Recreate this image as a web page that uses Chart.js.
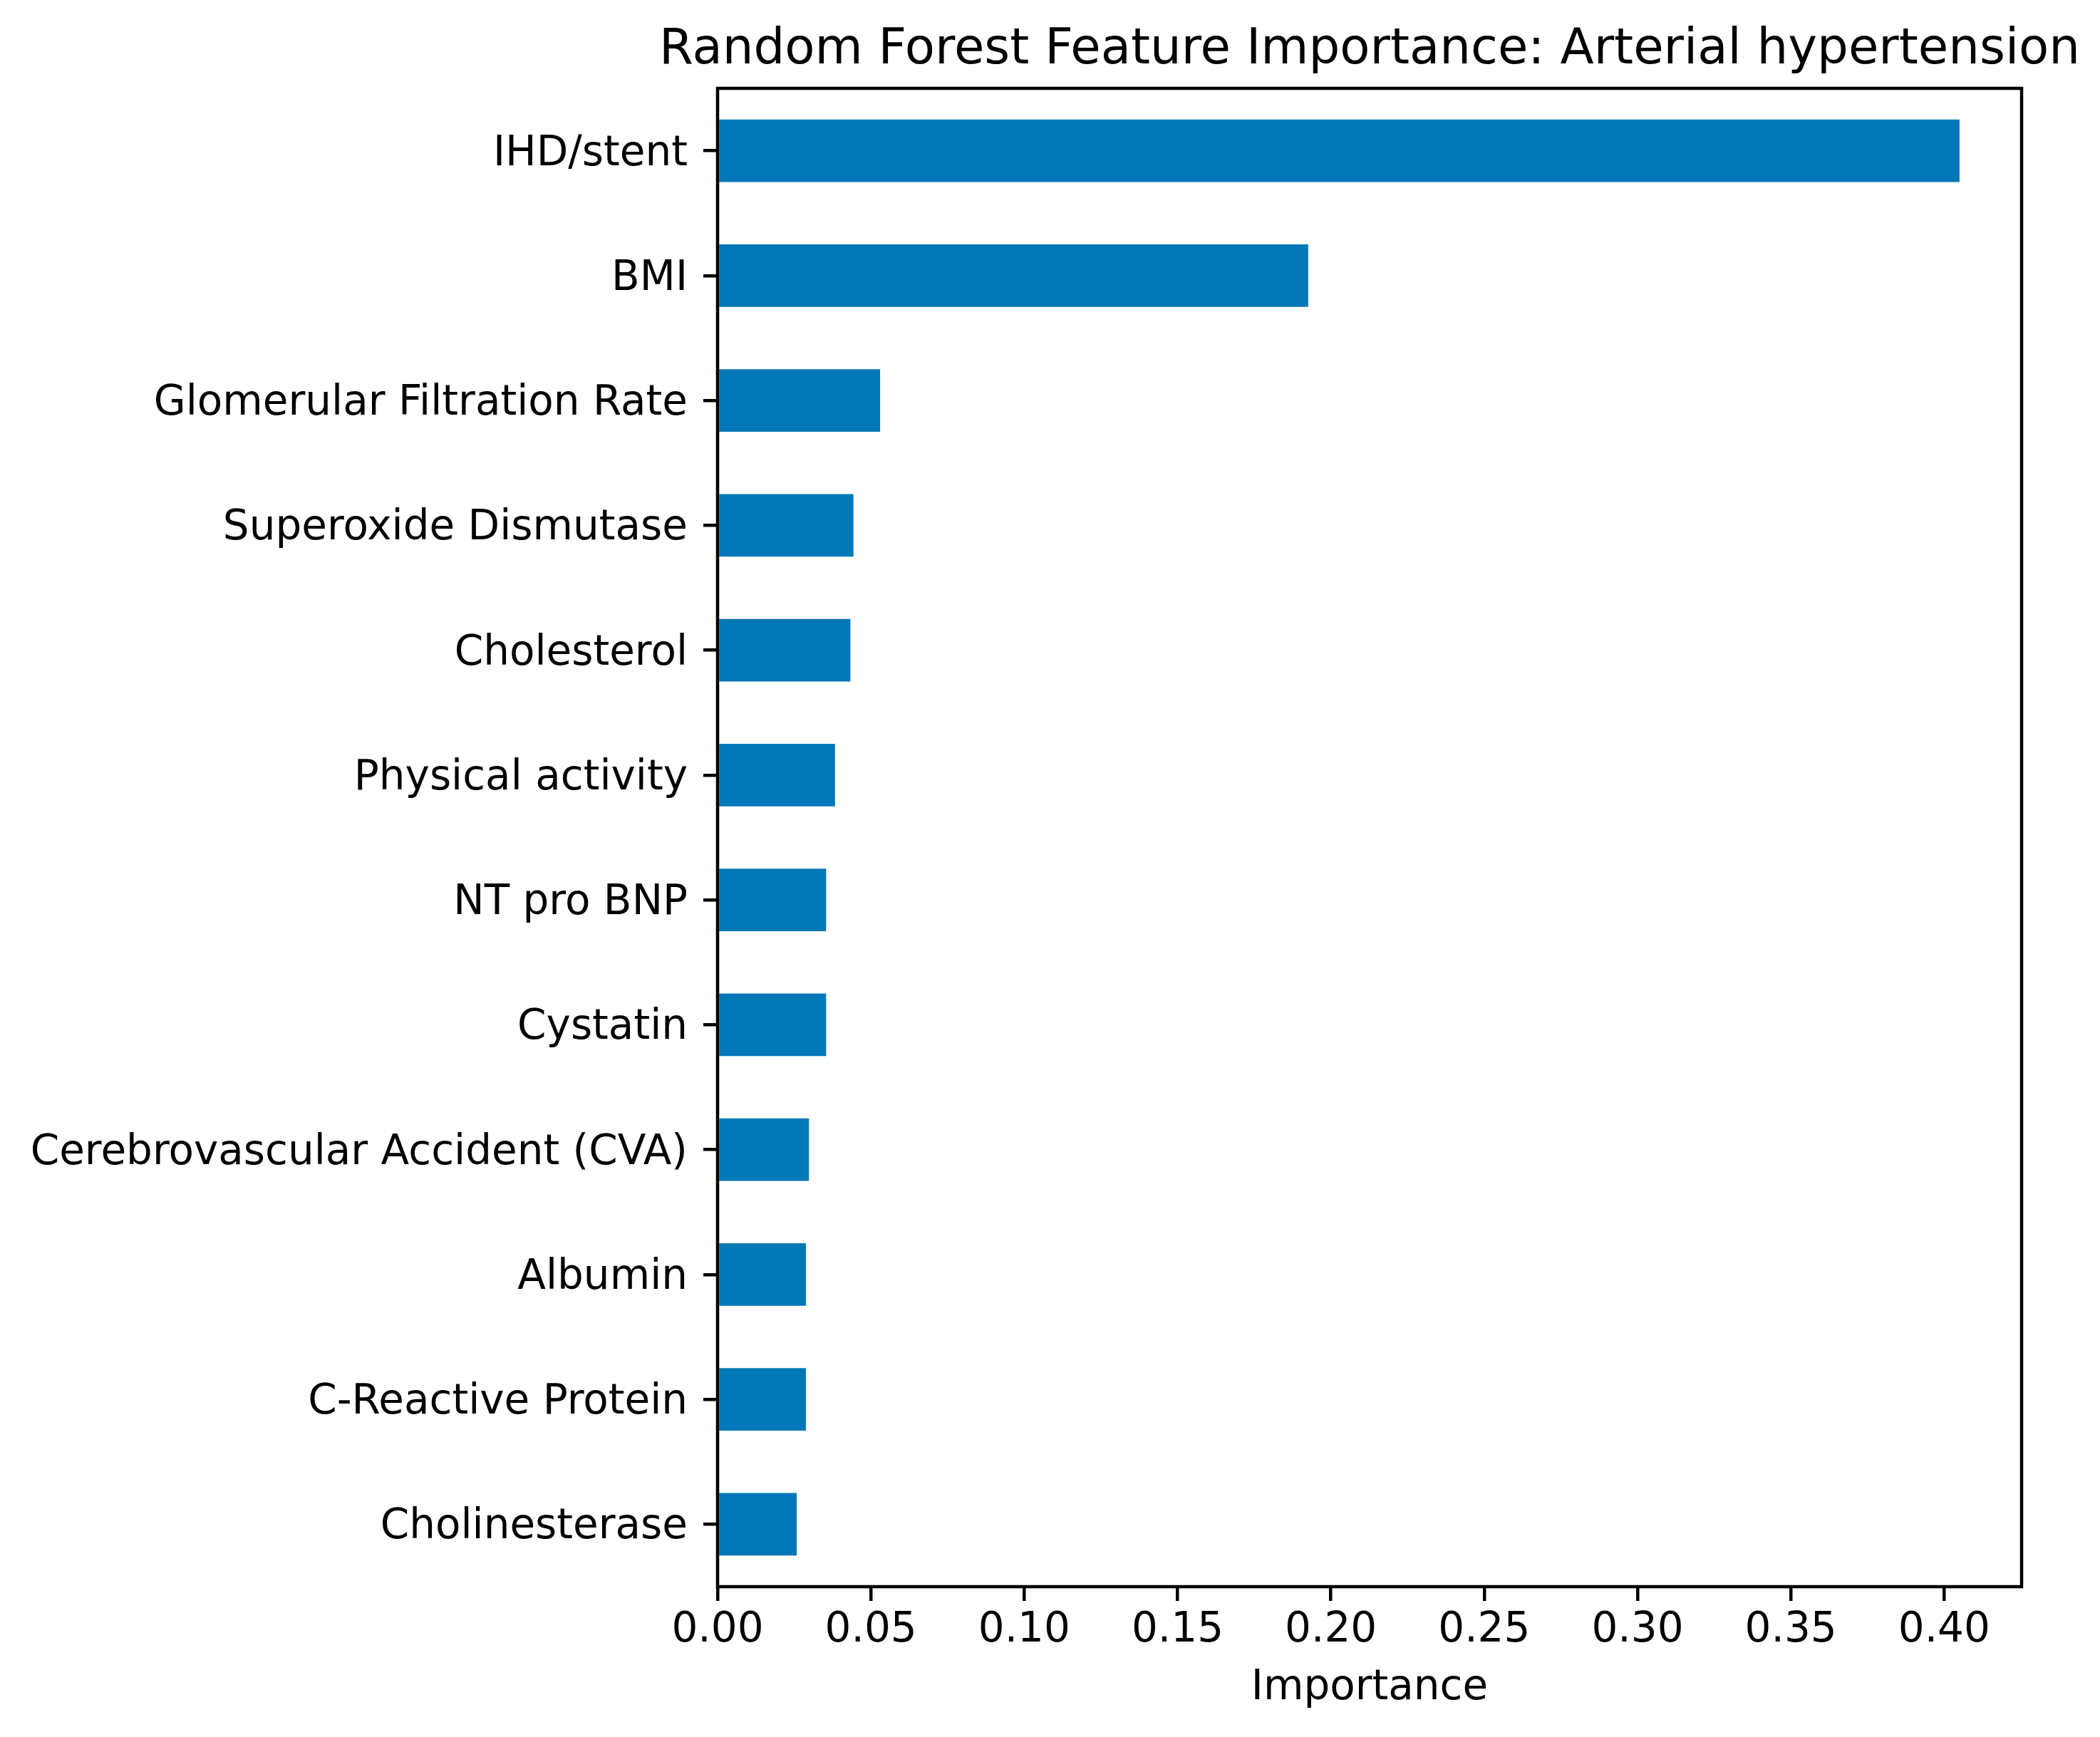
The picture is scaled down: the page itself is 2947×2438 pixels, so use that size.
<!DOCTYPE html>
<html>
<head>
<meta charset="utf-8">
<title>Random Forest Feature Importance</title>
<script src="https://cdn.jsdelivr.net/npm/chart.js@4"></script>
<style>
  html, body { margin: 0; padding: 0; background: #fff; }
  canvas { display: block; }
</style>
</head>
<body>
<canvas id="importanceChart" width="2947" height="2438"></canvas>
<script>
// chart data
const chartTitle = "Random Forest Feature Importance: Arterial hypertension"
const features = [
  "IHD/stent",
  "BMI",
  "Glomerular Filtration Rate",
  "Superoxide Dismutase",
  "Cholesterol",
  "Physical activity",
  "NT pro BNP",
  "Cystatin",
  "Cerebrovascular Accident (CVA)",
  "Albumin",
  "C-Reactive Protein",
  "Cholinesterase",
]
const importance = [0.405, 0.1926, 0.053, 0.0443, 0.0433, 0.0383, 0.0354, 0.0354, 0.0298, 0.0288, 0.0288, 0.0258]
const xTicks = [0, 0.05, 0.1, 0.15, 0.2, 0.25, 0.3, 0.35, 0.4]
const xLimit = 0.42525

const fontFamily = '"DejaVu Sans", "Liberation Sans", sans-serif'
const ink = "#000"
const lineW = 4.5

// title over the plot box and the frame around it
const framePlugin = {
  id: "frame",
  afterDraw(chart) {
    const { ctx, chartArea } = chart
    ctx.save()
    ctx.strokeStyle = ink
    ctx.lineWidth = lineW
    ctx.lineJoin = "miter"
    ctx.strokeRect(chartArea.left, chartArea.top, chartArea.right - chartArea.left, chartArea.bottom - chartArea.top)
    ctx.fillStyle = ink
    ctx.font = "69px " + fontFamily
    ctx.textAlign = "center"
    ctx.textBaseline = "alphabetic"
    ctx.fillText(chartTitle, (chartArea.left + chartArea.right) / 2, 89)
    ctx.restore()
  },
}

const bgPlugin = {
  id: "bg",
  beforeDraw(chart) {
    const ctx = chart.ctx
    ctx.save()
    ctx.fillStyle = "#fff"
    ctx.fillRect(0, 0, chart.width, chart.height)
    ctx.restore()
  },
}

var ctx = document.getElementById("importanceChart").getContext("2d")
var importanceChart = new Chart(ctx, {
  type: "bar",
  data: {
    labels: features,
    datasets: [
      {
        label: "Importance",
        data: importance,
        backgroundColor: "#0077b6",
        borderWidth: 0,
        categoryPercentage: 1,
        barPercentage: 0.5,
      },
    ],
  },
  options: {
    indexAxis: "y",
    responsive: false,
    devicePixelRatio: 1,
    animation: false,
    layout: {
      padding: { left: 0, right: 110, top: 124, bottom: 33 },
    },
    plugins: {
      legend: { display: false },
      tooltip: { enabled: false },
      title: { display: false },
    },
    scales: {
      x: {
        type: "linear",
        min: 0,
        max: xLimit,
        afterBuildTicks: (scale) => {
          scale.ticks = xTicks.map((v) => ({ value: v }))
        },
        afterFit: (scale) => {
          scale.height = 178
        },
        border: { display: false },
        grid: {
          drawOnChartArea: false,
          drawTicks: true,
          tickLength: 20,
          color: ink,
          lineWidth: lineW,
        },
        ticks: {
          padding: 7,
          color: ink,
          font: { family: fontFamily, size: 58 },
          maxRotation: 0,
          autoSkip: false,
          callback: (v) => Number(v).toFixed(2),
        },
        title: {
          display: true,
          text: "Importance",
          color: ink,
          font: { family: fontFamily, size: 58 },
          padding: 0,
        },
      },
      y: {
        type: "category",
        afterFit: (scale) => {
          scale.width = 1007
        },
        border: { display: false },
        grid: {
          offset: false,
          drawOnChartArea: false,
          drawTicks: true,
          tickLength: 20,
          color: ink,
          lineWidth: lineW,
        },
        ticks: {
          padding: 22,
          labelOffset: 5,
          color: ink,
          font: { family: fontFamily, size: 58 },
          autoSkip: false,
        },
      },
    },
  },
  plugins: [bgPlugin, framePlugin],
})
</script>
</body>
</html>
